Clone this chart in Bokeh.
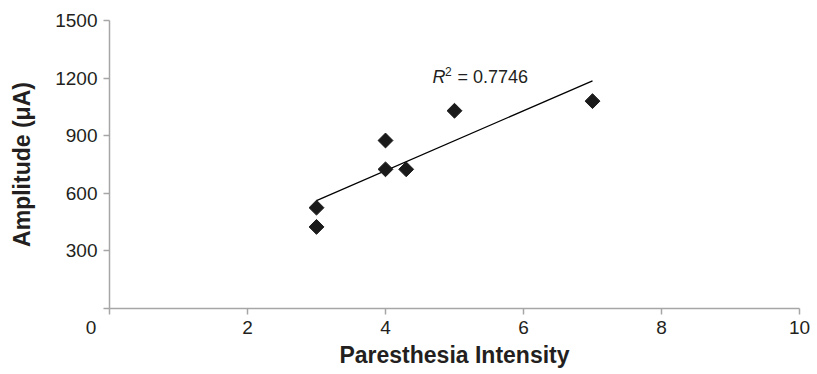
import numpy as np
from bokeh.plotting import figure
from bokeh.models import Range1d, FixedTicker, Label
from bokeh.embed import file_html
from bokeh.resources import INLINE

# ---- data ----
intensity = [3, 3, 4, 4, 4.3, 5, 7]
amplitude = [525, 425, 875, 725, 725, 1030, 1080]
x_ticks = [0, 2, 4, 6, 8, 10]
y_ticks = [0, 300, 600, 900, 1200, 1500]
r2_text = "= 0.7746"

FONT = "Liberation Sans"
AXIS_COL = "#a6a6a6"
TEXT_COL = "#231f20"

p = figure(width=813, height=370, output_backend="svg", toolbar_location=None,
           x_range=Range1d(0, 10), y_range=Range1d(0, 1500),
           min_border_left=109, min_border_right=14, min_border_top=20, min_border_bottom=60)
p.outline_line_color = None
p.xgrid.visible = False
p.ygrid.visible = False
p.background_fill_color = "white"
p.border_fill_color = "white"

for ax in (p.xaxis[0], p.yaxis[0]):
    ax.axis_line_color = AXIS_COL
    ax.axis_line_width = 1.5
    ax.major_tick_line_color = AXIS_COL
    ax.major_tick_line_width = 1.5
    ax.major_tick_in = 0
    ax.major_tick_out = 6
    ax.minor_tick_line_color = None
    ax.major_label_text_font = FONT
    ax.major_label_text_font_size = "19px"
    ax.major_label_text_color = TEXT_COL
    ax.axis_label_text_font = FONT
    ax.axis_label_text_font_style = "bold"
    ax.axis_label_text_font_size = "23px"
    ax.axis_label_text_color = TEXT_COL

p.xaxis.ticker = FixedTicker(ticks=x_ticks)
p.yaxis.ticker = FixedTicker(ticks=y_ticks)
# shared origin label "0" sits left of the x tick
p.xaxis.major_label_overrides = {0: "0" + "\u00a0" * 7}
p.yaxis.major_label_overrides = {0: ""}
p.xaxis.major_label_standoff = 2
p.yaxis.major_label_standoff = 6
p.xaxis.axis_label = "Paresthesia Intensity"
p.yaxis.axis_label = "Amplitude (\u03bcA)"
p.xaxis.axis_label_standoff = 1
p.yaxis.axis_label_standoff = 17

# trend line (least squares)
k, b = np.polyfit(intensity, amplitude, 1)
xs = [min(intensity), max(intensity)]
p.line(xs, [k * v + b for v in xs], line_color="black", line_width=1.3)

# points
p.scatter(intensity, amplitude, marker="square", size=10.5, angle=np.pi / 4,
          fill_color="#1a1a1a", line_color="#1a1a1a")

# R^2 annotation
rx, ry = 4.68, 1207
p.add_layout(Label(x=rx, y=ry, text="R", text_font=FONT, text_font_style="italic",
                   text_font_size="18px", text_color=TEXT_COL, text_baseline="alphabetic"))
p.add_layout(Label(x=rx, y=ry, x_offset=12.5, y_offset=5, text="2", text_font=FONT,
                   text_font_size="12px", text_color=TEXT_COL, text_baseline="alphabetic"))
p.add_layout(Label(x=rx, y=ry, x_offset=25, text=r2_text, text_font=FONT,
                   text_font_size="18px", text_color=TEXT_COL, text_baseline="alphabetic"))

open("out.html", "w").write(file_html(p, INLINE))
